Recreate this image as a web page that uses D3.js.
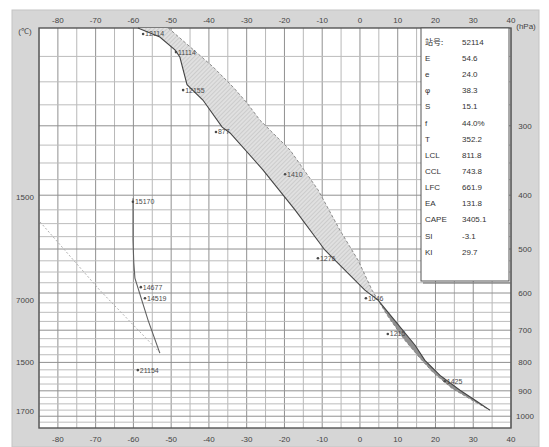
<!DOCTYPE html>
<html>
<head>
<meta charset="utf-8">
<script src="https://cdn.jsdelivr.net/npm/d3@7/dist/d3.min.js"></script>
<style>
  body { margin: 0; background: #fff; }
  text { font-family: "Liberation Sans", Arial, sans-serif; }
</style>
</head>
<body>
<div id="chart"></div>
<script>
// axis ticks
const tempTicks = [-80, -70, -60, -50, -40, -30, -20, -10, 0, 10, 20, 30, 40];
const presTicks = [300, 400, 500, 600, 700, 800, 900, 1000];
const leftTickLabels = ['1500', '7000', '1500', '1700'];
const leftTickPres = [403, 618, 800, 980];

// environment temperature curve (degC, hPa)
const envTemp = [-58.8, -53.0, -49.0, -47.7, -45.8, -41.6, -36.5, -34.4, -25.7, -17.2, -9.3, 1.3, 4.8, 8.7, 14.6, 17.2, 21.2, 26.5, 31.3, 34.4];
const envPres = [200, 207.6, 219, 225.6, 253, 269.6, 301.6, 309, 360, 425, 502, 593, 618, 666, 745, 793, 844, 898, 944, 975];

// lifted parcel curve
const parcelTemp = [-50.8, -49.5, -38.9, -33.6, -29.9, -26.5, -18.5, -11.1, -5.3, -0.5, 3.2, 4.8, 7.4, 11.9, 15.9, 19.3, 24.4, 30.2, 34.4];
const parcelPres = [200, 203.4, 235, 255.5, 273, 293, 331.8, 391.3, 462.5, 523.8, 593, 618, 661, 730, 786, 833.5, 891, 940, 975];

// dew point curve
const dewTemp = [-60.1, -60.1, -59.9, -59.6, -56.1, -53.0];
const dewPres = [405, 482, 528, 564, 672, 770];

// faint guide line on the left
const guideTemp = [-84.7, -68.9, -53.0];
const guidePres = [447, 593, 768];

// level labels along the curves
const levelText = ['12114', '11114', '12155', '877', '1410', '1276', '1046', '1215', '1425', '15170', '14677', '14519', '21154'];
const levelTemp = [-56.9, -48.2, -46.3, -37.6, -19.3, -10.6, 2.1, 7.9, 23.0, -59.6, -57.5, -56.4, -58.3];
const levelPres = [205, 221, 258.7, 307.8, 366.8, 519.4, 613, 711, 865, 411, 585.6, 613, 826];

// station info table
const infoLabels = ['站号', 'E', 'e', 'φ', 'S', 'f', 'T', 'LCL', 'CCL', 'LFC', 'EA', 'CAPE', 'SI', 'KI'];
const infoValues = ['52114', '54.6', '24.0', '38.3', '15.1', '44.0%', '352.2', '811.8', '743.8', '661.9', '131.8', '3405.1', '-3.1', '29.7'];

const W = 549, H = 447;
const plot = {left: 39, right: 511, top: 28, bottom: 428};

const svg = d3.select('#chart').append('svg')
  .attr('width', W)
  .attr('height', H);

// hatch pattern for the CAPE area
const defs = svg.append('defs');
const pat = defs.append('pattern')
  .attr('id', 'hatch')
  .attr('width', 3).attr('height', 3)
  .attr('patternUnits', 'userSpaceOnUse')
  .attr('patternTransform', 'rotate(45)');
pat.append('rect').attr('width', 3).attr('height', 3).attr('fill', '#e0e0e0');
pat.append('line').attr('x1', 0).attr('y1', 0).attr('x2', 0).attr('y2', 3)
  .attr('stroke', '#b0b0b0').attr('stroke-width', 0.8);

// grey frame
svg.append('rect')
  .attr('x', 12).attr('y', 10)
  .attr('width', 527).attr('height', 437)
  .attr('fill', '#d6d6d6')
  .attr('stroke', '#c4c4c4');

// scales
const x = d3.scaleLinear().domain([-85, 40]).range([plot.left, plot.right]);
const y = d3.scaleLog().domain([200, 1050]).range([plot.top, plot.bottom]);

svg.append('rect')
  .attr('x', plot.left).attr('y', plot.top)
  .attr('width', plot.right - plot.left).attr('height', plot.bottom - plot.top)
  .attr('fill', '#fff');

// grid
const grid = svg.append('g');
for (let t = -85; t <= 40; t += 5) {
  grid.append('line')
    .attr('x1', x(t)).attr('x2', x(t))
    .attr('y1', plot.top).attr('y2', plot.bottom)
    .attr('stroke', t % 10 === 0 ? '#909090' : '#b8b8b8')
    .attr('stroke-width', 1);
}
for (let p = 225; p < 1050; p += 25) {
  grid.append('line')
    .attr('x1', plot.left).attr('x2', plot.right)
    .attr('y1', y(p)).attr('y2', y(p))
    .attr('stroke', p % 100 === 0 ? '#909090' : '#bcbcbc')
    .attr('stroke-width', 1);
}

// plot border
svg.append('rect')
  .attr('x', plot.left).attr('y', plot.top)
  .attr('width', plot.right - plot.left).attr('height', plot.bottom - plot.top)
  .attr('fill', 'none')
  .attr('stroke', '#555')
  .attr('stroke-width', 1.4);

const line = d3.line()
  .x(d => x(d[0]))
  .y(d => y(d[1]));

const env = envTemp.map((t, i) => [t, envPres[i]]);
const parcel = parcelTemp.map((t, i) => [t, parcelPres[i]]);
const dew = dewTemp.map((t, i) => [t, dewPres[i]]);
const guide = guideTemp.map((t, i) => [t, guidePres[i]]);

// CAPE area (between parcel and environment above LFC)
const envUpper = env.filter(d => d[1] <= 618);
const parcelUpper = parcel.filter(d => d[1] <= 618);
svg.append('path')
  .attr('d', line(envUpper.concat(parcelUpper.slice().reverse())) + 'Z')
  .attr('fill', 'url(#hatch)')
  .attr('stroke', 'none');

// lower narrow area below LFC
const envLower = env.filter(d => d[1] >= 618);
const parcelLower = parcel.filter(d => d[1] >= 618);
svg.append('path')
  .attr('d', line(envLower.concat(parcelLower.slice().reverse())) + 'Z')
  .attr('fill', '#909090')
  .attr('stroke', 'none');

svg.append('path')
  .datum(guide)
  .attr('d', line)
  .attr('fill', 'none')
  .attr('stroke', '#b0b0b0')
  .attr('stroke-dasharray', '2,2')
  .attr('stroke-width', 1);

svg.append('path')
  .datum(parcel)
  .attr('d', line)
  .attr('fill', 'none')
  .attr('stroke', '#808080')
  .attr('stroke-dasharray', '3,2')
  .attr('stroke-width', 0.9);

svg.append('path')
  .datum(env)
  .attr('d', line)
  .attr('fill', 'none')
  .attr('stroke', '#444')
  .attr('stroke-width', 1.1);

svg.append('path')
  .datum(dew)
  .attr('d', line)
  .attr('fill', 'none')
  .attr('stroke', '#606060')
  .attr('stroke-width', 1.1);

// level labels
const lab = svg.append('g')
  .attr('font-size', 7)
  .attr('fill', '#4a4a4a');
levelText.forEach((s, i) => {
  lab.append('text')
    .attr('x', x(levelTemp[i]))
    .attr('y', y(levelPres[i]))
    .attr('dy', '0.35em')
    .text(s);
  lab.append('circle')
    .attr('cx', x(levelTemp[i]) - 2)
    .attr('cy', y(levelPres[i]))
    .attr('r', 1.3)
    .attr('fill', '#4a4a4a');
});

// axis labels
const axisG = svg.append('g')
  .attr('font-size', 8)
  .attr('fill', '#444')
  .attr('text-anchor', 'middle');
tempTicks.forEach(t => {
  axisG.append('text').attr('x', x(t)).attr('y', 23).text(t);
  axisG.append('text').attr('x', x(t)).attr('y', 442).text(t);
});
presTicks.forEach(p => {
  axisG.append('text').attr('x', 525).attr('y', y(p)).attr('dy', '0.35em').text(p);
});
leftTickLabels.forEach((s, i) => {
  axisG.append('text').attr('x', 25).attr('y', y(leftTickPres[i])).attr('dy', '0.35em').text(s);
});
axisG.append('text').attr('x', 25).attr('y', 34).text('(℃)');
axisG.append('text').attr('x', 526).attr('y', 29).text('(hPa)');

// info table
const box = {left: 421, right: 509, top: 28, bottom: 281};
svg.append('line')
  .attr('x1', box.left + 2).attr('x2', box.right + 2)
  .attr('y1', box.bottom + 2).attr('y2', box.bottom + 2)
  .attr('stroke', '#666');
svg.append('rect')
  .attr('x', box.left).attr('y', box.top)
  .attr('width', box.right - box.left).attr('height', box.bottom - box.top)
  .attr('fill', '#fff')
  .attr('stroke', '#555')
  .attr('stroke-width', 1);

const rowY = d3.scalePoint().domain(infoLabels).range([42, 252]);
const info = svg.append('g')
  .attr('font-size', 8)
  .attr('fill', '#333');
infoLabels.forEach((s, i) => {
  info.append('text')
    .attr('x', 425).attr('y', rowY(s)).attr('dy', '0.35em')
    .style('font-family', i === 0 ? '"Noto Sans CJK SC", sans-serif' : null)
    .text(s + (i === 0 ? ':' : ''));
  info.append('text')
    .attr('x', 462).attr('y', rowY(s)).attr('dy', '0.35em')
    .text(infoValues[i]);
});
</script>
</body>
</html>
